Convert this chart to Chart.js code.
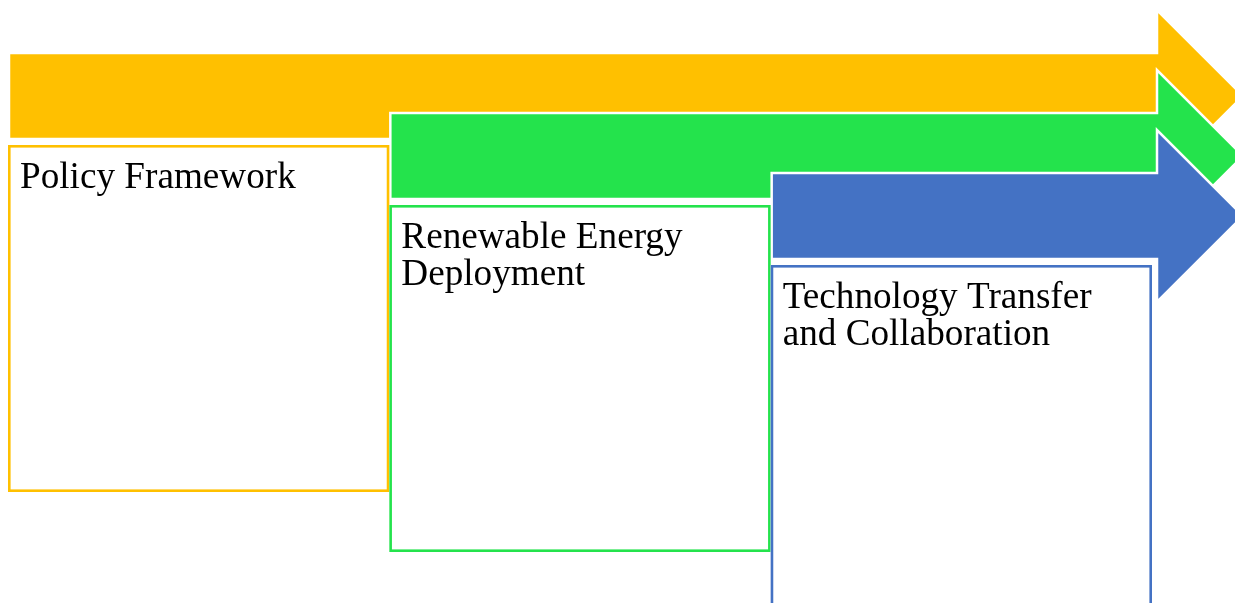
<!DOCTYPE html>
<html>
<head>
<meta charset="utf-8">
<script src="https://cdn.jsdelivr.net/npm/chart.js@4/dist/chart.umd.min.js"></script>
<style>
html, body { margin: 0; padding: 0; background: #fff; }
#wrap { width: 1235px; height: 603px; position: relative; }
</style>
</head>
<body>
<div id="wrap"><canvas id="stagesChart"></canvas></div>
<script>
// stages of the process, left to right
const stages = ['Policy Framework', 'Renewable Energy Deployment', 'Technology Transfer and Collaboration']
const stageLines = [
    ['Policy Framework'],
    ['Renewable Energy', 'Deployment'],
    ['Technology Transfer', 'and Collaboration']
]
const stageColors = ['#FFC000', '#24E34C', '#4472C4']

// layout of one step (y in pixel units of the y scale)
const STEP_Y = 60
const ARROW_TOP = 53
const ARROW_BODY = 86
const HEAD_HALF = 86
const BOX_TOP = 145
const BOX_H = 347
const TEXT_DX = 12
const TEXT_BASE = 43
const LINE_H = 36.7

const stagePlugin = {
    id: 'stageArrows',
    afterDatasetsDraw(chart) {
        const { ctx, scales: { x, y } } = chart
        const n = stages.length
        const headX = x.getPixelForValue(n) + 5

        ctx.save()
        // arrows, each one laid over the previous head
        stages.forEach((s, i) => {
            const left = x.getPixelForValue(i) + 1
            const top = y.getPixelForValue(ARROW_TOP + i * STEP_Y)
            const bot = y.getPixelForValue(ARROW_TOP + ARROW_BODY + i * STEP_Y)
            const mid = (top + bot) / 2
            ctx.beginPath()
            ctx.moveTo(left, top)
            ctx.lineTo(headX, top)
            ctx.lineTo(headX, mid - HEAD_HALF)
            ctx.lineTo(headX + HEAD_HALF, mid)
            ctx.lineTo(headX, mid + HEAD_HALF)
            ctx.lineTo(headX, bot)
            ctx.lineTo(left, bot)
            ctx.closePath()
            ctx.fillStyle = stageColors[i]
            ctx.fill()
            ctx.lineWidth = 2.5
            ctx.strokeStyle = '#fff'
            ctx.lineJoin = 'miter'
            ctx.stroke()
        })

        // text boxes under the arrows
        stages.forEach((s, i) => {
            const left = x.getPixelForValue(i)
            const right = x.getPixelForValue(i + 1)
            const top = y.getPixelForValue(BOX_TOP + i * STEP_Y)
            const bot = y.getPixelForValue(BOX_TOP + BOX_H + i * STEP_Y)
            ctx.fillStyle = '#fff'
            ctx.fillRect(left, top, right - left, bot - top)
            ctx.lineWidth = 2.6
            ctx.strokeStyle = stageColors[i]
            ctx.strokeRect(left + 1.3, top + 1.3, right - left - 2.6, bot - top - 2.6)

            ctx.fillStyle = '#000'
            ctx.font = '37.2px "Liberation Serif", "Times New Roman", serif'
            ctx.textBaseline = 'alphabetic'
            ctx.textAlign = 'left'
            stageLines[i].forEach((line, k) => {
                ctx.fillText(line, left + TEXT_DX, top + TEXT_BASE + k * LINE_H)
            })
        })
        ctx.restore()
    }
}

const data = {
    datasets: [{
        label: 'stages',
        data: stages.map((s, i) => ({ x: i, y: 0 })),
        pointRadius: 0,
        showLine: false
    }]
}

const options = {
    responsive: true,
    maintainAspectRatio: false,
    animation: false,
    layout: { padding: { left: 8, right: 83, top: 0, bottom: 0 } },
    scales: {
        x: { type: 'linear', min: 0, max: stages.length, display: false },
        y: { type: 'linear', min: 0, max: 603, reverse: true, display: false }
    },
    plugins: {
        legend: { display: false },
        tooltip: { enabled: false }
    }
}

new Chart('stagesChart', { type: 'scatter', data, options, plugins: [stagePlugin] })
</script>
</body>
</html>
